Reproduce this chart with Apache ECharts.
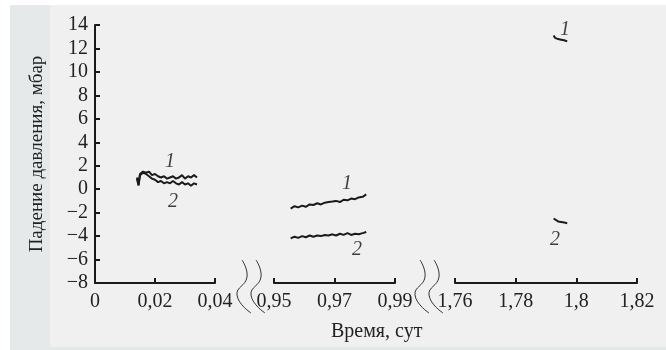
<!DOCTYPE html>
<html>
<head>
<meta charset="utf-8">
<script src="https://cdn.jsdelivr.net/npm/echarts@6/dist/echarts.min.js"></script>
<style>
  html, body { margin: 0; padding: 0; background: #fff; }
  #chart { width: 666px; height: 350px; }
</style>
</head>
<body>
<div id="chart"></div>
<script>
// исходные данные
const seg1Time  = [0.0140, 0.0145, 0.0150, 0.0160, 0.0170, 0.0180, 0.0190, 0.0200, 0.0210, 0.0220, 0.0230, 0.0240, 0.0250, 0.0260, 0.0270, 0.0280, 0.0290, 0.0300, 0.0310, 0.0320, 0.0330, 0.0340];
const seg1Line1 = [1.0, 0.4, 1.3, 1.5, 1.4, 1.5, 1.2, 1.3, 1.1, 1.0, 1.1, 0.9, 1.0, 1.1, 0.9, 1.0, 1.2, 0.9, 1.1, 1.0, 1.2, 1.0];
const seg1Line2 = [0.9, 0.3, 1.2, 1.4, 1.3, 1.1, 0.9, 0.8, 0.6, 0.7, 0.5, 0.6, 0.5, 0.7, 0.5, 0.4, 0.6, 0.4, 0.5, 0.3, 0.5, 0.4];

const seg2Time  = [0.9555, 0.9568, 0.9580, 0.9593, 0.9605, 0.9618, 0.9630, 0.9643, 0.9655, 0.9668, 0.9680, 0.9693, 0.9705, 0.9718, 0.9730, 0.9743, 0.9755, 0.9768, 0.9780, 0.9793, 0.9805];
const seg2Line1 = [-1.65, -1.45, -1.55, -1.4, -1.5, -1.3, -1.35, -1.2, -1.3, -1.15, -1.1, -1.05, -1.0, -1.1, -0.9, -0.95, -0.8, -0.85, -0.7, -0.65, -0.45];
const seg2Line2 = [-4.2, -4.05, -4.15, -4.0, -4.1, -3.95, -4.05, -3.95, -4.0, -3.9, -3.95, -3.85, -3.95, -3.8, -3.9, -3.75, -3.9, -3.8, -3.85, -3.75, -3.65];

const seg3Time  = [1.7925, 1.7930, 1.7940, 1.7950, 1.7960, 1.7970];
const seg3Line1 = [13.1, 12.9, 12.8, 12.75, 12.7, 12.6];
const seg3Line2 = [-2.5, -2.65, -2.75, -2.8, -2.85, -2.9];

// номера кривых
const seg1Tags = [[0.0250, 2.3, '1'], [0.0260, -1.1, '2']];
const seg2Tags = [[0.9741, 0.5, '1'], [0.9774, -5.2, '2']];
const seg3Tags = [[1.7963, 13.6, '1'], [1.7930, -4.3, '2']];

// участки разорванной оси
const segStart = [0, 0.95, 1.76];
const segSpan  = [0.04, 0.04, 0.06];
const tickStep = 0.02;
const yTicks = { min: -8, max: 14, step: 2 };

const FONT = 'Liberation Serif';
const INK = '#1a1a1a';

const chart = echarts.init(document.getElementById('chart'));

const gridLeft  = [95, 274, 455];
const gridWidth = [120, 121, 182];

const fmtTime = (off) => (v) => {
  const s = parseFloat((v + off).toFixed(2)).toString();
  return s.replace('.', ',');
};

const grids = gridLeft.map((l, i) => ({ left: l, width: gridWidth[i], top: 25, height: 258 }));

const xAxes = segStart.map((off, i) => ({
  type: 'value',
  gridIndex: i,
  min: 0,
  max: segSpan[i],
  interval: tickStep,
  axisLine: { show: true, onZero: false, lineStyle: { color: INK, width: 2 } },
  axisTick: { show: true, inside: true, length: 5, lineStyle: { color: INK, width: 2 } },
  axisLabel: { formatter: fmtTime(off), fontFamily: FONT, fontSize: 20, color: '#222', margin: 9, showMinLabel: true, showMaxLabel: true },
  splitLine: { show: false }
}));

const yAxes = segStart.map((off, i) => ({
  type: 'value',
  gridIndex: i,
  show: i === 0,
  min: yTicks.min,
  max: yTicks.max,
  interval: yTicks.step,
  name: i === 0 ? 'Падение давления, мбар' : '',
  nameLocation: 'middle',
  nameRotate: 90,
  nameGap: 48,
  nameTextStyle: { fontFamily: FONT, fontSize: 19, color: '#222' },
  axisLine: { show: true, onZero: false, lineStyle: { color: INK, width: 2 } },
  axisTick: { show: true, inside: true, length: 5, lineStyle: { color: INK, width: 2 } },
  axisLabel: {
    fontFamily: FONT, fontSize: 20, color: '#222', margin: 7,
    formatter: (v) => v < 0 ? '\u2212' + (-v) : String(v)
  },
  splitLine: { show: false }
}));

const segData = [
  [seg1Time, seg1Line1, seg1Line2, seg1Tags],
  [seg2Time, seg2Line1, seg2Line2, seg2Tags],
  [seg3Time, seg3Line1, seg3Line2, seg3Tags]
];

const series = [];
segData.forEach(([t, a, b, tags], i) => {
  const off = segStart[i];
  [a, b].forEach((vals) => {
    series.push({
      type: 'line',
      xAxisIndex: i,
      yAxisIndex: i,
      data: t.map((x, k) => [x - off, vals[k]]),
      showSymbol: false,
      lineStyle: { color: INK, width: 2 },
      silent: true
    });
  });
  series.push({
    type: 'scatter',
    xAxisIndex: i,
    yAxisIndex: i,
    symbolSize: 0,
    data: tags.map((d) => ({ value: [d[0] - off, d[1]], name: d[2] })),
    label: {
      show: true,
      position: 'inside',
      formatter: (p) => p.name,
      fontFamily: FONT, fontStyle: 'italic', fontSize: 20, color: '#111'
    },
    silent: true
  });
});

// значки разрыва оси
const breakCurve = (x0) => ({
  type: 'polyline',
  shape: { points: [[x0, 260], [x0 + 5, 277], [x0 - 5, 295], [x0 + 9, 313]], smooth: 0.5 },
  style: { stroke: '#333', lineWidth: 1, fill: null },
  silent: true
});

chart.setOption({
  animation: false,
  backgroundColor: '#ffffff',
  graphic: [
    { type: 'rect', z: -10, shape: { x: 10, y: 5, width: 656, height: 345 }, style: { fill: '#e5e9ea' } },
    { type: 'rect', z: -9, shape: { x: 50, y: 5, width: 616, height: 342 }, style: { fill: '#f0f0f0' } },
    breakCurve(242), breakCurve(256),
    breakCurve(420), breakCurve(434),
    {
      type: 'text', left: 331, top: 322,
      style: { text: 'Время, сут', font: '20px "Liberation Serif"', fill: '#222' }
    }
  ],
  grid: grids,
  xAxis: xAxes,
  yAxis: yAxes,
  series: series
});
</script>
</body>
</html>
